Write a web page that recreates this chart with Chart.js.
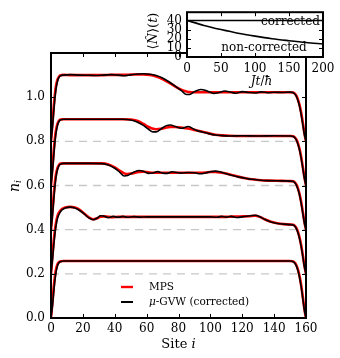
<!DOCTYPE html>
<html>
<head>
<meta charset="utf-8">
<script src="https://cdn.jsdelivr.net/npm/chart.js@4/dist/chart.umd.min.js"></script>
<style>
  html, body { margin: 0; padding: 0; background: #fff; }
  #wrap { position: relative; width: 340px; height: 358px; }
  #main { position: absolute; left: 0; top: 0; }
  #inset { position: absolute; left: 140px; top: 0; }
</style>
</head>
<body>
<div id="wrap">
  <canvas id="main" width="340" height="358"></canvas>
  <canvas id="inset" width="200" height="100"></canvas>
</div>
<script>
// ---- data: density profiles n_i, each shifted up by 0.2 from the one below ----
const sites1 = [0,1,2,3,4,5,6,8,20,40,60,80,100,120,140,150,152,153,154,155,156,157,158,159,160];
const mps1 = [0,0.08,0.16,0.215,0.242,0.253,0.257,0.258,0.258,0.258,0.258,0.258,0.258,0.258,0.258,0.258,0.256,0.25,0.238,0.218,0.188,0.147,0.095,0.04,0];
const gvw1 = [0,0.06,0.14,0.2,0.235,0.25,0.255,0.258,0.258,0.258,0.258,0.258,0.258,0.258,0.258,0.258,0.255,0.248,0.235,0.213,0.182,0.14,0.088,0.035,0];

const sites2 = [0,1,2,3,4,6,9,12,15,18,21,24,26.5,29,31,33,36,39,42,45,48,52,56,60,80,100,104,107,110,113,117,120,124,128,131,134,138,142,146,150,152,153,154,155,156,157,158,159,160];
const mps2 = [0.2,0.29,0.37,0.425,0.46,0.488,0.5,0.503,0.5,0.49,0.472,0.455,0.447,0.452,0.458,0.46,0.458,0.457,0.458,0.458,0.458,0.458,0.458,0.458,0.458,0.458,0.458,0.458,0.458,0.459,0.459,0.46,0.461,0.463,0.458,0.447,0.436,0.429,0.425,0.423,0.422,0.417,0.407,0.389,0.363,0.328,0.284,0.237,0.2];
const gvw2 = [0.2,0.27,0.35,0.41,0.45,0.482,0.498,0.502,0.498,0.487,0.47,0.452,0.445,0.453,0.463,0.462,0.455,0.46,0.456,0.46,0.456,0.459,0.457,0.458,0.458,0.458,0.456,0.46,0.457,0.46,0.455,0.458,0.462,0.465,0.459,0.447,0.435,0.428,0.425,0.423,0.421,0.415,0.404,0.385,0.358,0.322,0.278,0.232,0.2];

const sites3 = [0,1,2,3,4,5,6,8,15,25,32,36,40,43,46,48,51,55,58,61,64,67,70,73,76,79,82,86,90,93.5,97,100,103,106,110,114,118,122,126,130,136,145,150,152,153,154,155,156,157,158,159,160];
const mps3 = [0.4,0.49,0.58,0.645,0.678,0.693,0.699,0.7,0.7,0.7,0.7,0.695,0.682,0.668,0.655,0.652,0.655,0.661,0.662,0.66,0.658,0.658,0.658,0.658,0.658,0.658,0.658,0.658,0.658,0.658,0.659,0.661,0.661,0.659,0.654,0.646,0.639,0.633,0.628,0.625,0.622,0.621,0.62,0.619,0.614,0.604,0.586,0.56,0.524,0.48,0.435,0.4];
const gvw3 = [0.4,0.47,0.56,0.63,0.67,0.69,0.697,0.7,0.7,0.7,0.699,0.693,0.678,0.661,0.643,0.645,0.657,0.668,0.665,0.655,0.657,0.663,0.656,0.655,0.662,0.659,0.656,0.659,0.658,0.653,0.657,0.662,0.665,0.662,0.653,0.645,0.638,0.633,0.628,0.625,0.622,0.621,0.62,0.618,0.612,0.601,0.582,0.555,0.518,0.474,0.43,0.4];

const sites4 = [0,1,2,3,4,5,6,8,20,35,45,50,54,58,61,64,66,69,72,75,78,82,86,91,95,99,103,107,112,120,130,140,150,152,153,154,155,156,157,158,159,160];
const mps4 = [0.6,0.69,0.78,0.845,0.878,0.893,0.899,0.9,0.9,0.9,0.9,0.899,0.893,0.879,0.866,0.857,0.855,0.857,0.862,0.865,0.865,0.862,0.858,0.85,0.843,0.836,0.83,0.827,0.825,0.824,0.824,0.824,0.824,0.823,0.818,0.808,0.79,0.764,0.728,0.684,0.637,0.6];
const gvw4 = [0.6,0.67,0.76,0.83,0.87,0.89,0.897,0.9,0.9,0.9,0.9,0.897,0.888,0.872,0.856,0.843,0.843,0.856,0.87,0.874,0.867,0.859,0.867,0.85,0.842,0.835,0.829,0.826,0.824,0.825,0.824,0.825,0.824,0.822,0.816,0.805,0.786,0.759,0.722,0.678,0.632,0.6];

const sites5 = [0,1,2,3,4,5,6,8,12,18,24,28,33,38,42,46,50,55,58,62,66,70,74,78,82,85,87,90,94,98,102,105,109,113,116,120,124,128,132,136,140,145,150,152,153,154,155,156,157,158,159,160];
const mps5 = [0.8,0.89,0.98,1.045,1.078,1.093,1.099,1.101,1.1,1.1,1.1,1.1,1.1,1.101,1.101,1.101,1.102,1.103,1.103,1.101,1.094,1.082,1.066,1.048,1.033,1.026,1.023,1.022,1.022,1.022,1.022,1.022,1.022,1.022,1.022,1.022,1.022,1.022,1.022,1.022,1.022,1.022,1.022,1.021,1.016,1.006,0.988,0.963,0.928,0.884,0.836,0.8];
const gvw5 = [0.8,0.87,0.96,1.03,1.07,1.09,1.097,1.1,1.102,1.1,1.099,1.098,1.1,1.102,1.1,1.097,1.101,1.105,1.106,1.104,1.098,1.087,1.07,1.05,1.028,1.012,1.012,1.025,1.035,1.028,1.017,1.02,1.028,1.022,1.018,1.025,1.021,1.019,1.024,1.02,1.022,1.021,1.023,1.02,1.014,1.003,0.984,0.957,0.92,0.876,0.83,0.8];

// baselines of the shifted profiles (dashed grey lines)
const offsets = [0.2, 0.4, 0.6, 0.8];

// inset: total particle number vs time
const insetTime = [0,25,50,75,100,125,150,175,200];
const corrected = [40,40,40,40,40,40,40,40,40];
const nonCorrected = [40,34.5,30,26,22.8,20,17.8,15.8,14.2];

// tick labels
const mainXTicks = [0,20,40,60,80,100,120,140,160];
const mainYTicks = [0,0.2,0.4,0.6,0.8,1.0,1.2];
const insetXTicks = [0,50,100,150,200];
const insetYTicks = [0,10,20,30,40];

const SERIF = "'DejaVu Serif', serif";

function pts(xs, ys) {
  return xs.map((x, i) => ({ x: x, y: ys[i] }));
}

// draw a label made of pieces with different fonts, centred on (x, y)
function drawParts(ctx, parts, x, y, rot, align) {
  ctx.save();
  ctx.translate(x, y);
  if (rot) ctx.rotate(rot);
  ctx.fillStyle = '#000';
  ctx.textBaseline = 'middle';
  ctx.textAlign = 'left';
  let w = 0;
  parts.forEach(p => { ctx.font = p.font; w += ctx.measureText(p.text).width; });
  let cx = align === 'left' ? 0 : -w / 2;
  parts.forEach(p => {
    ctx.font = p.font;
    ctx.fillText(p.text, cx, p.dy || 0);
    cx += ctx.measureText(p.text).width;
  });
  ctx.restore();
}

// full box with inward tick marks, matplotlib style
const frameTicks = {
  id: 'frameTicks',
  afterDatasetsDraw(chart, args, opts) {
    const { ctx, chartArea: a, scales } = chart;
    const len = opts.len || 4;
    ctx.save();
    ctx.strokeStyle = '#000';
    ctx.lineWidth = 1;
    ctx.beginPath();
    opts.xTicks.forEach(v => {
      const px = Math.round(scales.x.getPixelForValue(v)) + 0.5;
      ctx.moveTo(px, a.bottom); ctx.lineTo(px, a.bottom - len);
      ctx.moveTo(px, a.top); ctx.lineTo(px, a.top + len);
    });
    opts.yTicks.forEach(v => {
      const py = Math.round(scales.y.getPixelForValue(v)) + 0.5;
      ctx.moveTo(a.left, py); ctx.lineTo(a.left + len, py);
      ctx.moveTo(a.right, py); ctx.lineTo(a.right - len, py);
    });
    ctx.stroke();
    ctx.lineWidth = 2;
    ctx.strokeRect(a.left, a.top, a.right - a.left, a.bottom - a.top);
    ctx.restore();
  }
};

const whiteArea = {
  id: 'whiteArea',
  beforeDraw(chart) {
    const { ctx, chartArea: a } = chart;
    ctx.save();
    ctx.fillStyle = '#fff';
    ctx.fillRect(a.left, a.top, a.right - a.left, a.bottom - a.top);
    ctx.restore();
  }
};

const mainLabels = {
  id: 'mainLabels',
  afterDraw(chart) {
    const ctx = chart.ctx;
    drawParts(ctx, [
      { text: 'Site ', font: '13px ' + SERIF },
      { text: 'i', font: 'italic 13px ' + SERIF }
    ], 178.5, 345);
    drawParts(ctx, [
      { text: 'n', font: 'italic 14px ' + SERIF },
      { text: 'i', font: 'italic 9px ' + SERIF, dy: 4 }
    ], 15, 186, -Math.PI / 2);
    // legend
    ctx.save();
    ctx.lineWidth = 2.4;
    ctx.strokeStyle = 'red';
    ctx.beginPath(); ctx.moveTo(121, 287); ctx.lineTo(133, 287); ctx.stroke();
    ctx.strokeStyle = '#000';
    ctx.lineWidth = 2;
    ctx.beginPath(); ctx.moveTo(121, 302); ctx.lineTo(133, 302); ctx.stroke();
    ctx.restore();
    drawParts(ctx, [{ text: 'MPS', font: '10.5px ' + SERIF }], 149, 287, 0, 'left');
    drawParts(ctx, [
      { text: '\u03bc', font: 'italic 10.5px ' + SERIF },
      { text: '-GVW (corrected)', font: '10.5px ' + SERIF }
    ], 149, 302, 0, 'left');
  }
};

const insetLabels = {
  id: 'insetLabels',
  afterDraw(chart) {
    const ctx = chart.ctx;
    drawParts(ctx, [{ text: 'corrected', font: '12px ' + SERIF }], 150.5, 21.5);
    drawParts(ctx, [{ text: 'non-corrected', font: '12px ' + SERIF }], 124, 47.5);
    drawParts(ctx, [
      { text: 'Jt', font: 'italic 12px ' + SERIF },
      { text: '/', font: '12px ' + SERIF },
      { text: '\u0127', font: 'italic 12px ' + SERIF }
    ], 121.5, 82);
    drawParts(ctx, [
      { text: '\u27e8', font: '13px ' + SERIF },
      { text: 'N\u0302', font: 'italic 13px ' + SERIF },
      { text: '\u27e9(', font: '13px ' + SERIF },
      { text: 't', font: 'italic 13px ' + SERIF },
      { text: ')', font: '13px ' + SERIF }
    ], 14, 31, -Math.PI / 2);
  }
};

// ---- main chart ----
const profiles = [
  [sites1, mps1, gvw1],
  [sites2, mps2, gvw2],
  [sites3, mps3, gvw3],
  [sites4, mps4, gvw4],
  [sites5, mps5, gvw5]
];

const datasets = [];
offsets.forEach(o => {
  datasets.push({
    data: [{ x: 0, y: o }, { x: 160, y: o }],
    borderColor: '#c8c8c8',
    borderWidth: 1.3,
    borderDash: [8, 6],
    pointRadius: 0,
    order: 3
  });
});
profiles.forEach(p => {
  datasets.push({
    label: 'MPS',
    data: pts(p[0], p[1]),
    borderColor: 'red',
    borderWidth: 2.6,
    pointRadius: 0,
    cubicInterpolationMode: 'monotone',
    order: 2
  });
  datasets.push({
    label: '\u03bc-GVW (corrected)',
    data: pts(p[0], p[2]),
    borderColor: '#000',
    borderWidth: 1.6,
    pointRadius: 0,
    cubicInterpolationMode: 'monotone',
    order: 1
  });
});

new Chart(document.getElementById('main'), {
  type: 'line',
  data: { datasets: datasets },
  options: {
    responsive: false,
    animation: false,
    devicePixelRatio: 1,
    layout: { padding: { top: 53, right: 34, left: 0, bottom: 0 } },
    plugins: {
      legend: { display: false },
      tooltip: { enabled: false },
      frameTicks: { xTicks: mainXTicks, yTicks: mainYTicks, len: 4 }
    },
    scales: {
      x: {
        type: 'linear', min: 0, max: 160,
        afterFit: s => { s.height = 40; },
        afterBuildTicks: s => { s.ticks = mainXTicks.map(v => ({ value: v })); },
        grid: { display: false, drawTicks: false },
        border: { display: false },
        ticks: { padding: 4, autoSkip: false, color: '#000', font: { family: SERIF, size: 12 }, maxRotation: 0 }
      },
      y: {
        type: 'linear', min: 0, max: 1.2,
        afterFit: s => { s.width = 51; },
        afterBuildTicks: s => { s.ticks = mainYTicks.map(v => ({ value: v })); },
        grid: { display: false, drawTicks: false },
        border: { display: false },
        ticks: {
          padding: 6, autoSkip: false, color: '#000', font: { family: SERIF, size: 12 },
          callback: v => (v > 1.1 ? '' : v.toFixed(1))
        }
      }
    }
  },
  plugins: [frameTicks, mainLabels]
});

// ---- inset ----
new Chart(document.getElementById('inset'), {
  type: 'line',
  data: {
    datasets: [
      { data: pts(insetTime, corrected), borderColor: '#000', borderWidth: 1.6, pointRadius: 0 },
      { data: pts(insetTime, nonCorrected), borderColor: '#000', borderWidth: 1.6, pointRadius: 0, cubicInterpolationMode: 'monotone' }
    ]
  },
  options: {
    responsive: false,
    animation: false,
    devicePixelRatio: 1,
    layout: { padding: { top: 4, right: 17, left: 0, bottom: 0 } },
    plugins: {
      legend: { display: false },
      tooltip: { enabled: false },
      frameTicks: { xTicks: insetXTicks, yTicks: insetYTicks, len: 4 }
    },
    scales: {
      x: {
        type: 'linear', min: 0, max: 200,
        afterFit: s => { s.height = 43; },
        afterBuildTicks: s => { s.ticks = insetXTicks.map(v => ({ value: v })); },
        grid: { display: false, drawTicks: false },
        border: { display: false },
        ticks: { padding: 5, autoSkip: false, color: '#000', font: { family: SERIF, size: 12 }, maxRotation: 0 }
      },
      y: {
        type: 'linear', min: 0, max: 49,
        afterFit: s => { s.width = 47; },
        afterBuildTicks: s => { s.ticks = insetYTicks.map(v => ({ value: v })); },
        grid: { display: false, drawTicks: false },
        border: { display: false },
        ticks: { padding: 5, autoSkip: false, color: '#000', font: { family: SERIF, size: 12 } }
      }
    }
  },
  plugins: [whiteArea, frameTicks, insetLabels]
});
</script>
</body>
</html>
